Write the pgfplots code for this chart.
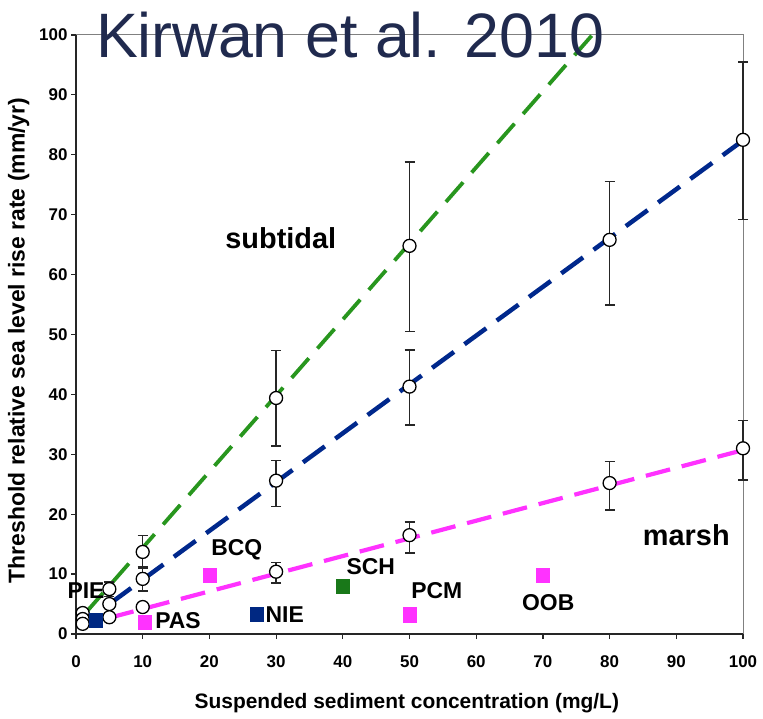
\documentclass[border=0pt]{standalone}
\usepackage{fontspec}
\setmainfont{Liberation Sans}
\usepackage{pgfplots}
\pgfplotsset{compat=1.18}
\usepackage{pgfplotstable}
\usetikzlibrary{calc}

\definecolor{subgreen}{RGB}{40,150,30}
\definecolor{midblue}{RGB}{0,40,140}
\definecolor{marshpink}{RGB}{255,50,255}
\definecolor{sitegreen}{RGB}{25,120,25}
\definecolor{siteblue}{RGB}{0,40,130}
\definecolor{titlenavy}{RGB}{32,42,78}

% model thresholds: x, y, error plus, error minus
\pgfplotstableread{
x y ep em
1 3.5 0 0
5 7.5 1.2 1.2
10 13.7 2.8 2.8
30 39.4 7.9 8.0
50 64.8 14.0 14.3
}\subtidaltab
\pgfplotstableread{
x y ep em
1 2.5 0 0
5 5.0 0 0
10 9.2 2.0 2.0
30 25.6 3.4 4.3
50 41.3 6.1 6.4
80 65.8 9.7 10.9
100 82.5 13.0 13.3
}\midtab
\pgfplotstableread{
x y ep em
1 1.7 0 0
5 2.8 0 0
10 4.5 0.6 0.6
30 10.4 1.5 1.9
50 16.5 2.2 3.0
80 25.2 3.6 4.5
100 31.0 4.7 5.3
}\marshtab

\pgfplotsset{
  modelpts/.style={only marks, mark=*, mark size=6.5bp,
    mark options={fill=white, draw=black, line width=1.3bp},
    error bars/y dir=both, error bars/y explicit},
  sitepts/.style={only marks, mark=square*, mark size=6.5bp, mark options={yscale=1.1}},
}

\begin{document}
\begin{tikzpicture}
\begin{axis}[
  name=ax,
  scale only axis, width=667bp, height=599bp,
  xmin=0, xmax=100, ymin=0, ymax=100,
  xtick={0,10,...,100}, ytick={0,10,...,100},
  axis x line*=bottom, axis y line*=left,
  axis line style={line width=1.4bp, black!85},
  tick align=outside, major tick length=5bp,
  tick style={line width=1.2bp, black!85},
  /pgf/number format/assume math mode=true,
  tick label style={font=\bfseries\fontsize{17}{17}\selectfont},
  xticklabel style={yshift=-13bp},
  yticklabel style={xshift=0bp},
  xlabel={Suspended sediment concentration (mg/L)},
  ylabel={Threshold relative sea level rise rate (mm/yr)},
  xlabel style={font=\bfseries\fontsize{21}{21}\selectfont,
    at={(axis description cs:0.496,-0.115)}, anchor=center},
  ylabel style={font=\bfseries\fontsize{23}{23}\selectfont,
    at={(axis description cs:-0.086,0.49)}, anchor=center},
  clip=false,
  error bars/error bar style={line width=1.3bp, black!85},
  error bars/error mark options={rotate=90, mark size=5bp, line width=1.3bp, black!85},
]
% frame on the upper and right sides
\draw[gray, line width=1bp] (rel axis cs:0,1) -- (rel axis cs:1,1) -- (rel axis cs:1,0);

% fitted lines
\addplot[subgreen, line width=3.8bp, dash pattern=on 26bp off 13bp] coordinates {(1.5,3.6) (77.4,100)};
\addplot[midblue, line width=4.5bp, dash pattern=on 27bp off 13bp] coordinates {(5,5.0) (100,82.4)};
\addplot[marshpink, line width=4.2bp, dash pattern=on 25bp off 12bp] coordinates {(5,2.7) (100,30.7)};

% model points with error bars
\addplot[modelpts] table[x=x, y=y, y error plus=ep, y error minus=em] {\subtidaltab};
\addplot[modelpts] table[x=x, y=y, y error plus=ep, y error minus=em] {\midtab};
\addplot[modelpts] table[x=x, y=y, y error plus=ep, y error minus=em] {\marshtab};

% site observations
\addplot[sitepts, color=siteblue] coordinates {(3,2.3) (27.1,3.3)};
\addplot[sitepts, color=sitegreen] coordinates {(40,8)};
\addplot[sitepts, color=marshpink] coordinates {(10.3,2) (20.1,9.8) (50,3.2) (70,9.8)};

% site names
\begin{scope}[every node/.style={font=\bfseries\fontsize{23}{23}\selectfont, inner sep=0pt}]
\node at (axis cs:1.5,7.2) {PIE};
\node at (axis cs:15.3,2.3) {PAS};
\node at (axis cs:24.1,14.0) {BCQ};
\node at (axis cs:31.3,3.3) {NIE};
\node at (axis cs:44.2,11.2) {SCH};
\node at (axis cs:54.1,7.3) {PCM};
\node at (axis cs:70.8,5.2) {OOB};
\end{scope}
\node[font=\bfseries\fontsize{29}{29}\selectfont, inner sep=0pt] at (axis cs:30.7,66.1) {subtidal};
\node[font=\bfseries\fontsize{29}{29}\selectfont, inner sep=0pt] at (axis cs:91.5,16.5) {marsh};

% heading
\node[font=\fontsize{63}{63}\selectfont, text=titlenavy, anchor=base, inner sep=0pt]
  at (axis description cs:0.411,0.9616) {Kirwan et al. 2010};
\end{axis}
\pgfresetboundingbox
\path[use as bounding box] ($(ax.south west)+(-76bp,-85bp)$) rectangle ($(ax.north east)+(20bp,35bp)$);
\end{tikzpicture}
\end{document}
